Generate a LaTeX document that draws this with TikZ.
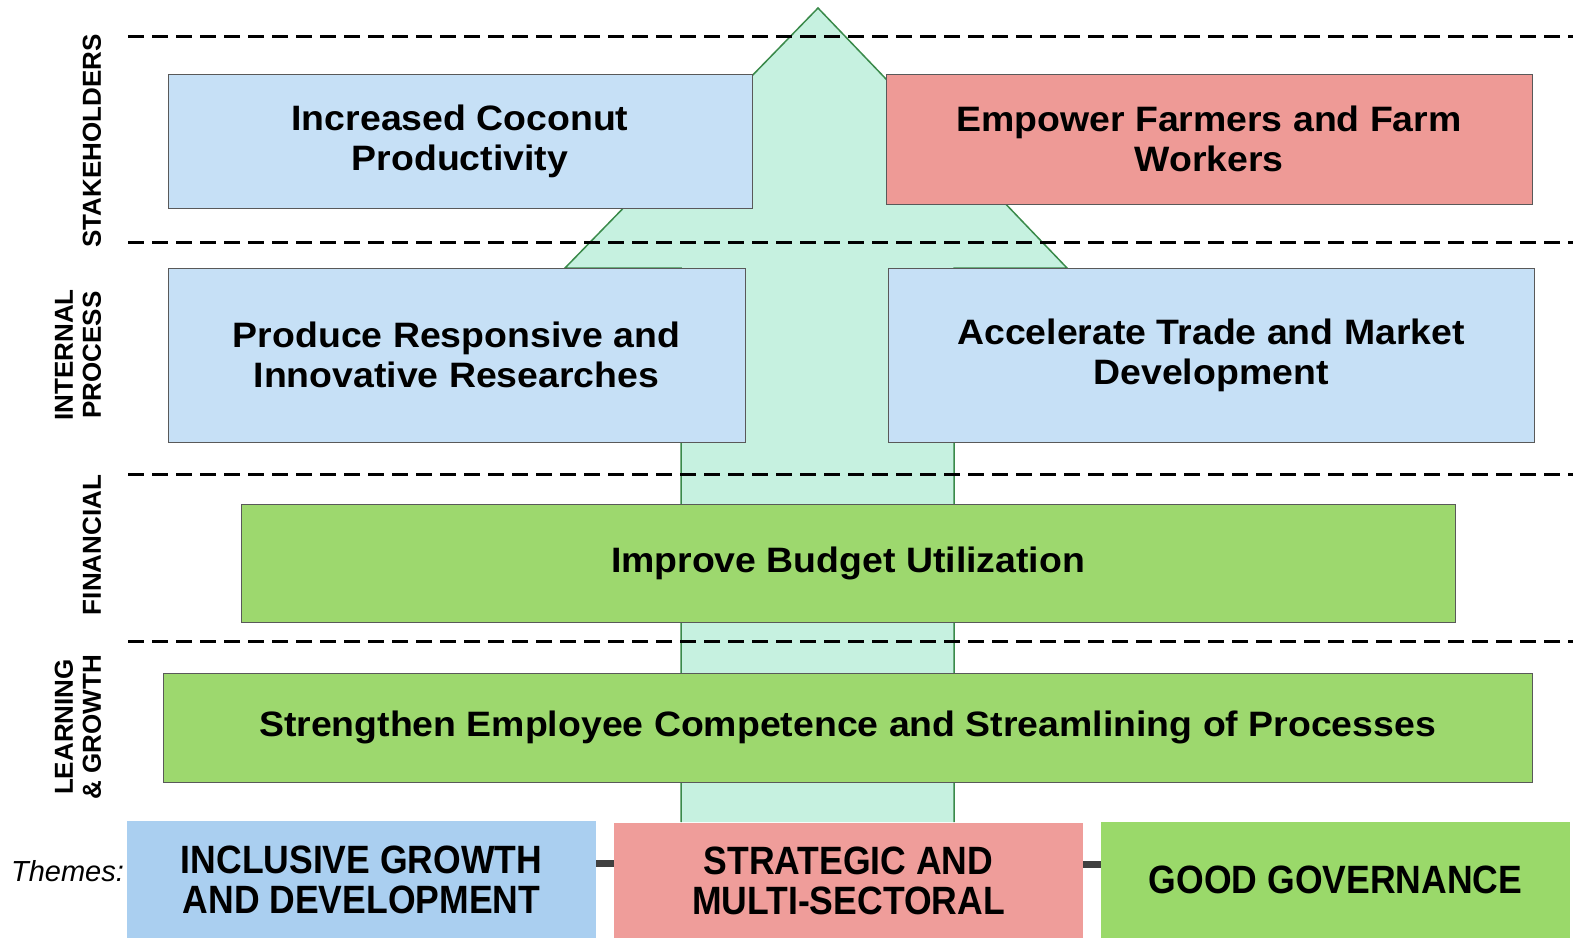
\documentclass[tikz,border=0pt]{standalone}
\usepackage{fontspec}
\setmainfont{Liberation Sans}
\newfontfamily\boxfont[FakeStretch=1.06]{Liberation Sans}
\newfontfamily\themefont[FakeStretch=0.9]{Liberation Sans}
\newfontfamily\sidefont{Liberation Sans}
\definecolor{boxblue}{HTML}{C6E0F6}
\definecolor{boxred}{HTML}{EE9A96}
\definecolor{boxgreen}{HTML}{9DD86E}
\definecolor{themeblue}{HTML}{AACFF0}
\definecolor{themered}{HTML}{EF9D9A}
\definecolor{themegreen}{HTML}{9AD96A}
\definecolor{mint}{HTML}{C6F1E0}
\definecolor{arrowedge}{HTML}{3A8A4A}
\tikzset{
  objbox/.style={draw=black!65, line width=0.8pt, inner sep=0pt, align=center,
    font=\boxfont\bfseries\fontsize{35.3}{40}\selectfont},
  themebox/.style={draw=none, inner sep=0pt, align=center,
    minimum width=469pt, font=\themefont\bfseries\fontsize{39.5}{40}\selectfont},
  sidelabel/.style={rotate=90, align=center, inner sep=0pt,
    font=\sidefont\bfseries\fontsize{26}{28}\selectfont},
  dashline/.style={line width=3pt, dash pattern=on 16pt off 8pt},
  themelink/.style={line width=7pt, draw=black!75},
}
\begin{document}
\begin{tikzpicture}[x=1pt,y=-1pt]
\useasboundingbox (0,0) rectangle (1573,938);
% big arrow
\draw[fill=mint, draw=arrowedge, line width=1.5pt, line join=miter]
  (681,822) -- (681,268) -- (565,268) -- (818,8) -- (1067,268) -- (954,268) -- (954,822);
% perspective divider lines
\draw[dashline] (128,36) -- (1573,36);
\draw[dashline] (128,242) -- (1573,242);
\draw[dashline] (128,474) -- (1573,474);
\draw[dashline] (128,641) -- (1573,641);
% objective boxes
\node[objbox, fill=boxblue, minimum width=584pt, minimum height=134pt] (inc) at (460,141)
  {Increased Coconut\\Productivity};
\node[objbox, fill=boxred, minimum width=646pt, minimum height=130pt] (emp) at (1209,139)
  {Empower Farmers and Farm\\Workers};
\node[objbox, fill=boxblue, minimum width=577pt, minimum height=174pt] (res) at (456.5,355)
  {Produce Responsive and\\Innovative Researches};
\node[objbox, fill=boxblue, minimum width=646pt, minimum height=174pt] (trade) at (1211,355)
  {Accelerate Trade and Market\\Development};
\node[objbox, fill=boxgreen, minimum width=1214pt, minimum height=118pt] (budget) at (848,563)
  {Improve Budget Utilization};
\node[objbox, fill=boxgreen, minimum width=1369pt, minimum height=109pt] (staff) at (847.5,727.5)
  {Strengthen Employee Competence and Streamlining of Processes};
% side labels
\node[sidelabel] (lstake) at (92,141) {STAKEHOLDERS};
\node[sidelabel] (lint) at (78,355) {INTERNAL\\PROCESS};
\node[sidelabel] (lfin) at (92,545) {FINANCIAL};
\node[sidelabel] (llearn) at (78,727) {LEARNING\\\& GROWTH};
% themes
\node[font=\sidefont\itshape\fontsize{29}{32}\selectfont, inner sep=0pt] (themes) at (67.5,871) {Themes:};
\node[themebox, fill=themeblue, minimum height=117pt] (t1) at (361.5,879.5)
  {INCLUSIVE GROWTH\\AND DEVELOPMENT};
\node[themebox, fill=themered, minimum height=115pt] (t2) at (848.5,880.5)
  {STRATEGIC AND\\MULTI-SECTORAL};
\node[themebox, fill=themegreen, minimum height=116pt] (t3) at (1335.5,880)
  {GOOD GOVERNANCE};
\draw[themelink] ([yshift=16pt]t1.east) -- ([yshift=16pt]t1.east -| t2.west);
\draw[themelink] ([yshift=16pt]t2.east) -- ([yshift=16pt]t2.east -| t3.west);
\end{tikzpicture}
\end{document}
